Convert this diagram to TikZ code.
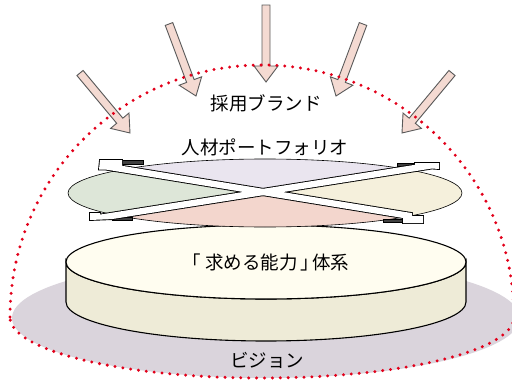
\documentclass[tikz,border=0pt]{standalone}
\usepackage{fontspec}
\setmainfont{Noto Sans CJK JP}
\usetikzlibrary{calc}
\definecolor{visiongray}{HTML}{DAD4DC}
\definecolor{domered}{HTML}{E2001A}
\definecolor{arrowpink}{HTML}{F4DAD2}
\definecolor{arrowedge}{HTML}{5A5A5A}
\definecolor{cyltop}{HTML}{FFFDF0}
\definecolor{cylside}{HTML}{EEEBD7}
\definecolor{qtop}{HTML}{EAE5EF}
\definecolor{qleft}{HTML}{DDE6D8}
\definecolor{qright}{HTML}{F5F0DC}
\definecolor{qbottom}{HTML}{F3D6CD}
\definecolor{clipdark}{HTML}{404040}
\tikzset{
  arrowbox/.style={fill=arrowpink, draw=arrowedge, line width=0.9pt, line join=miter},
  dotline/.style={draw=domered, line width=3.3pt, line cap=round, dash pattern=on 0pt off 7.9pt},
  outline/.style={draw=black, line width=1.1pt},
  label/.style={font=\fontsize{18.5}{20}\selectfont, inner sep=0pt},
  strapedge/.style={draw=black, line width=1.8pt, line join=miter},
  clipshade/.style={fill=clipdark, draw=black, line width=0.6pt},
}
% block arrow from tail #1 to tip #2
\newcommand\blockarrow[2]{%
  \coordinate (#1-h) at ($(#2)!16pt!(#1)$);
  \draw[arrowbox]
    ($(#1)!4pt!90:(#2)$) -- ($(#1-h)!4pt!90:(#2)$) -- ($(#1-h)!12pt!90:(#2)$)
    -- (#2)
    -- ($(#1-h)!12pt!-90:(#2)$) -- ($(#1-h)!4pt!-90:(#2)$) -- ($(#1)!4pt!-90:(#2)$) -- cycle;
}
\begin{document}
\begin{tikzpicture}[x=1pt,y=-1pt]
\useasboundingbox (0,0) rectangle (512,380);

% vision base
\fill[visiongray] (266,318) ellipse [x radius=254, y radius=60];

% capability cylinder
\path[fill=cylside, outline] (66,262) -- (66,302)
  arc[start angle=180, end angle=0, x radius=200, y radius=39]
  -- (466,262)
  arc[start angle=0, end angle=180, x radius=200, y radius=37] -- cycle;
\path[fill=cyltop, outline] (266,262) ellipse [x radius=200, y radius=37];

% portfolio disc in four sectors
\begin{scope}
  \clip (265,193) ellipse [x radius=197, y radius=34];
  \fill[qtop] (263,192) -- (-150,125) -- (680,126) -- cycle;
  \fill[qleft] (263,192) -- (-150,125) -- (-150,257) -- cycle;
  \fill[qright] (263,192) -- (680,126) -- (680,260) -- cycle;
  \fill[qbottom] (263,192) -- (-150,257) -- (680,260) -- cycle;
\end{scope}
\draw[line width=0.6pt] (265,193) ellipse [x radius=197, y radius=34];

% clip undersides
\path[clipshade] (122,160) rectangle (143,164);
\path[clipshade] (383,219) rectangle (403,222.5);
\path[clipshade] (397,163) rectangle (415,166);
\path[clipshade] (112,217.5) rectangle (132,220.5);

% crossed straps: outlines first, then white bands so the crossing merges
\def\strapA{(122,165.8) -- (122,160) -- (100,160) -- (99,169.5) -- (106,169.6)
  -- (403,218.0) -- (403,223) -- (423,223) -- (423,216) -- (412,216) -- (412,213.1) -- cycle}
\def\strapB{(415,164.8) -- (415,163) -- (439,163) -- (439,169) -- (432,168.5)
  -- (112,219.1) -- (90,220) -- (90,213) -- (100,213) -- (100,214.6) -- cycle}
\draw[strapedge] \strapA;
\draw[strapedge] \strapB;
\fill[white] \strapA;
\fill[white] \strapB;

% incoming arrows
\coordinate (a1) at (266,5);   \coordinate (t1) at (266,82);
\coordinate (a2) at (169,24);  \coordinate (t2) at (196,96);
\coordinate (a3) at (363,24);  \coordinate (t3) at (336,96);
\coordinate (a4) at (80,73);   \coordinate (t4) at (130,133);
\coordinate (a5) at (452,73);  \coordinate (t5) at (402,133);
\blockarrow{a1}{t1}
\blockarrow{a2}{t2}
\blockarrow{a3}{t3}
\blockarrow{a4}{t4}
\blockarrow{a5}{t5}

% dotted dome
\path[dotline] (10,317) arc[start angle=180, end angle=360, radius=252]
  arc[start angle=0, end angle=180, x radius=252, y radius=61];

% labels
\node[label] (brand) at (266,103) {採用ブランド};
\node[label] (portfolio) at (265,147) {人材ポートフォリオ};
\node[label] (ability) at (266,262) {「\hspace{4pt}求める能力\hspace{3pt}」\hspace{-7pt}体系};
\node[label] (vision) at (267,360) {ビジョン};
\end{tikzpicture}
\end{document}
